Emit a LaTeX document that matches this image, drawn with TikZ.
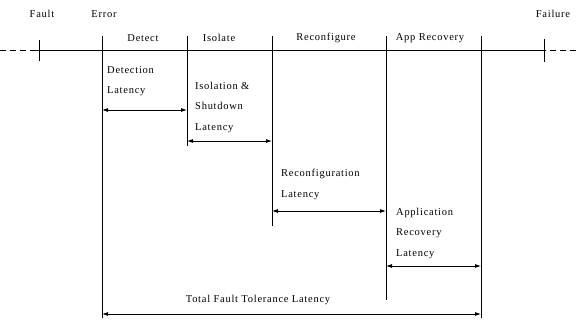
\documentclass[tikz,border=0pt]{standalone}
\usepackage{fontspec}
\setmainfont[LetterSpace=7]{Liberation Serif}
\usetikzlibrary{arrows.meta}
\begin{document}
\begin{tikzpicture}[x=1pt,y=-1pt,
  lbl/.style={inner sep=0pt,font=\fontsize{10.5}{11}\selectfont},
  blk/.style={inner sep=0pt,align=left,anchor=north west,font=\fontsize{10.5}{20.5}\selectfont},
  vline/.style={line width=0.9pt},
  lat/.style={line width=0.8pt,{Latex[length=6pt,width=4pt]}-{Latex[length=6pt,width=4pt]}}]
\useasboundingbox (0,0) rectangle (578,321);
% time axis
\coordinate (l0) at (0,50);
\coordinate (l1) at (36,50);
\coordinate (r1) at (540,50);
\coordinate (r0) at (578,50);
\draw[line width=0.9pt,dashed,dash pattern=on 6pt off 4pt] (l0) -- (l1);
\draw[line width=0.9pt] (l1) -- (r1);
\draw[line width=0.9pt,dashed,dash pattern=on 6pt off 4pt] (r1) -- (r0);
% fault / failure ticks
\coordinate (ft) at (39,40); \coordinate (fb) at (39,61);
\coordinate (flt) at (544,39); \coordinate (flb) at (544,62);
\draw[vline] (ft) -- (fb);
\draw[vline] (flt) -- (flb);
% verticals
\coordinate (e0) at (102,36); \coordinate (e1) at (102,318);
\coordinate (i0) at (187,36); \coordinate (i1) at (187,146);
\coordinate (c0) at (272,36); \coordinate (c1) at (272,226);
\coordinate (a0) at (386,36); \coordinate (a1) at (386,300);
\coordinate (p0) at (481,36); \coordinate (p1) at (481,318);
\draw[line width=0.7pt] (e0) -- (e1);
\draw[vline] (i0) -- (i1);
\draw[vline] (c0) -- (c1);
\draw[vline] (a0) -- (a1);
\draw[vline] (p0) -- (p1);
% top labels
\node[lbl] (fault) at (42,14) {Fault};
\node[lbl] (error) at (104,14) {Error};
\node[lbl] (failure) at (553,14) {Failure};
\node[lbl] (detect) at (143,38) {Detect};
\node[lbl] (isolate) at (219,38) {Isolate};
\node[lbl] (reconf) at (326,38) {Reconfigure};
\node[lbl] (apprec) at (430,38) {App Recovery};
% latency texts
\node[blk] (dl) at (107,66) {Detection\\Latency};
\node[blk] (il) at (195,82) {Isolation \&\\Shutdown\\Latency};
\node[blk] (rl) at (281,169) {Reconfiguration\\Latency};
\node[blk] (al) at (396,208) {Application\\Recovery\\Latency};
\node[lbl] (tl) at (258,300) {Total Fault Tolerance Latency};
% latency arrows
\coordinate (d1) at (102,110); \coordinate (d2) at (187,110);
\coordinate (s1) at (187,141); \coordinate (s2) at (272,141);
\coordinate (g1) at (272,211); \coordinate (g2) at (386,211);
\coordinate (h1) at (386,266); \coordinate (h2) at (481,266);
\coordinate (t1) at (102,314); \coordinate (t2) at (481,314);
\draw[lat] (d1) -- (d2);
\draw[lat] (s1) -- (s2);
\draw[lat] (g1) -- (g2);
\draw[lat] (h1) -- (h2);
\draw[lat] (t1) -- (t2);
\end{tikzpicture}
\end{document}
